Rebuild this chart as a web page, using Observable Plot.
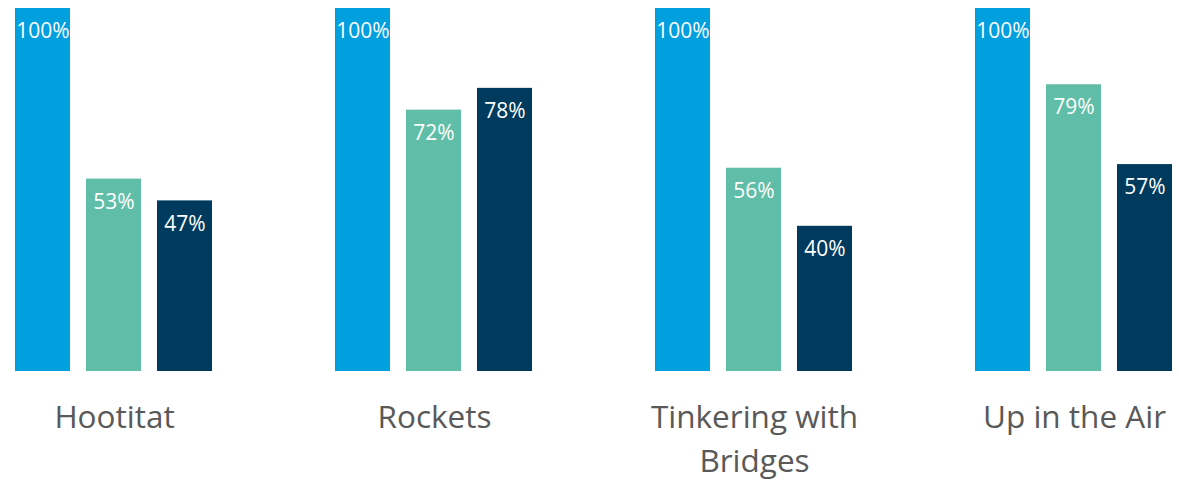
<!DOCTYPE html>
<html>
<head>
<meta charset="utf-8">
<script src="https://cdn.jsdelivr.net/npm/d3@7"></script>
<script src="https://cdn.jsdelivr.net/npm/@observablehq/plot@0.6"></script>
<style>
  html, body { margin: 0; padding: 0; background: #ffffff; }
  #chart svg { display: block; }
</style>
</head>
<body>
<div id="chart"></div>
<script>
const categories = ["Hootitat", "Rockets", "Tinkering with\nBridges", "Up in the Air"];
const seriesNames = ["Series 1", "Series 2", "Series 3"];
const series1 = [100, 100, 100, 100];
const series2 = [53, 72, 56, 79];
const series3 = [47, 78, 40, 57];
const seriesColors = ["#00A0DF", "#60BDA7", "#003A5C"];

const allSeries = [series1, series2, series3];
const data = [];
categories.forEach((c, i) => {
  seriesNames.forEach((s, j) => {
    data.push({category: c, series: s, value: allSeries[j][i]});
  });
});

const chart = Plot.plot({
  width: 1179,
  height: 482,
  marginTop: 8,
  marginBottom: 111,
  marginLeft: 13,
  marginRight: 4,
  style: {background: "#ffffff", fontFamily: "'Open Sans', sans-serif", overflow: "visible"},
  fx: {domain: categories, paddingInner: 0.38, paddingOuter: 0, label: null, axis: null},
  x: {domain: seriesNames, paddingInner: 0.222, paddingOuter: 0, axis: null},
  y: {domain: [0, 100], axis: null},
  color: {domain: seriesNames, range: seriesColors},
  marks: [
    Plot.barY(data, {fx: "category", x: "series", y: "value", fill: "series"}),
    Plot.text(data, {
      fx: "category", x: "series", y: "value",
      text: d => d.value + "%",
      dy: 23, fill: "#ffffff", fontSize: 21,
      fontFamily: "'Open Sans', sans-serif"
    }),
    Plot.axisFx({
      anchor: "bottom", tickSize: 0, tickPadding: 0, label: null,
      fontSize: 31.5, lineHeight: 1.4, fill: "#595959", dy: 25,
      fontFamily: "'Open Sans', sans-serif"
    })
  ]
});
document.getElementById("chart").appendChild(chart);
</script>
</body>
</html>
